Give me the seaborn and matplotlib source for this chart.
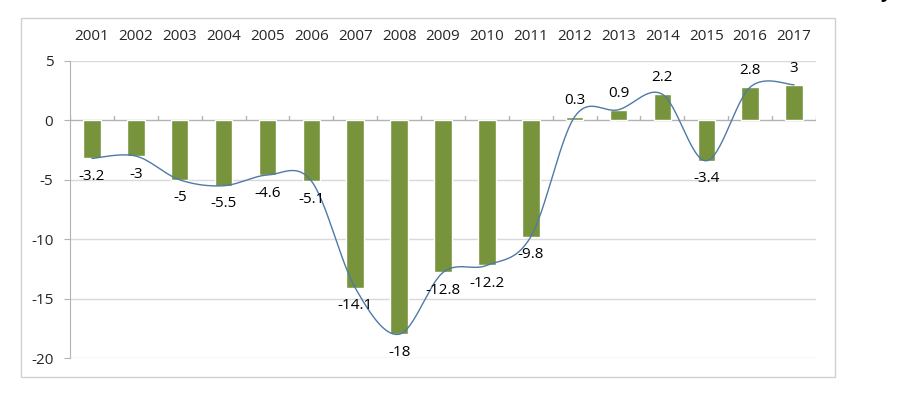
import matplotlib
matplotlib.use("Agg")
import matplotlib.pyplot as plt
import seaborn as sns
import numpy as np
import pandas as pd
from matplotlib.patches import Rectangle

# data
years = ["2001", "2002", "2003", "2004", "2005", "2006", "2007", "2008", "2009",
         "2010", "2011", "2012", "2013", "2014", "2015", "2016", "2017"]
values = [-3.2, -3, -5, -5.5, -4.6, -5.1, -14.1, -18, -12.8,
          -12.2, -9.8, 0.3, 0.9, 2.2, -3.4, 2.8, 3]
y_ticks = [5, 0, -5, -10, -15, -20]

bar_color = "#77933C"
line_color = "#4f7aa5"
grid_color = "#d9d9d9"
axis_color = "#b3b3b3"


def smooth_curve(x, y, steps=30):
    """Excel-like smoothed line (Catmull-Rom / Bezier with 1/6 tension)."""
    x = np.asarray(x, float)
    y = np.asarray(y, float)
    px = np.concatenate([[x[0]], x, [x[-1]]])
    py = np.concatenate([[y[0]], y, [y[-1]]])
    xs, ys = [], []
    t = np.linspace(0, 1, steps)
    for i in range(1, len(px) - 2):
        p0 = np.array([px[i], py[i]])
        p3 = np.array([px[i + 1], py[i + 1]])
        c1 = p0 + (p3 - np.array([px[i - 1], py[i - 1]])) / 6
        c2 = p3 - (np.array([px[i + 2], py[i + 2]]) - p0) / 6
        pts = ((1 - t) ** 3)[:, None] * p0 + (3 * (1 - t) ** 2 * t)[:, None] * c1 \
            + (3 * (1 - t) * t ** 2)[:, None] * c2 + (t ** 3)[:, None] * p3
        xs.append(pts[:, 0])
        ys.append(pts[:, 1])
    return np.concatenate(xs), np.concatenate(ys)


sns.set_style("white")
plt.rcParams["font.family"] = ["Open Sans", "DejaVu Sans"]

df = pd.DataFrame({"year": years, "value": values})

fig = plt.figure(figsize=(9.2, 3.94), dpi=100)
ax = fig.add_axes([70 / 920, 1 - 358 / 394, (816 - 70) / 920, (358 - 61) / 394])

# outer chart border
fig.patches.append(Rectangle((21 / 920, 1 - 377 / 394), (835 - 21) / 920, (377 - 18) / 394,
                             transform=fig.transFigure, fill=False,
                             edgecolor="#d0d0d0", linewidth=1, zorder=0))
# clipped glyph at the top edge of the screenshot
fig.text(880 / 920, 1 + 3 / 394, "y", fontsize=14, fontweight="bold",
         ha="left", va="baseline", color="black")

sns.barplot(data=df, x="year", y="value", color=bar_color, width=0.4,
            saturation=1, ax=ax, zorder=2)

# smoothed line through bar ends
xs, ys = smooth_curve(np.arange(len(values)), values)
ax.plot(xs, ys, color=line_color, linewidth=1, zorder=3)

# data labels
for i, v in enumerate(values):
    off = 12 if v > 0 else -13
    ax.annotate(f"{v:g}", (i, v), xytext=(0, off), textcoords="offset points",
                ha="center", va="center", fontsize=11, color="black", zorder=4)

ax.set_ylim(-20, 5)
ax.set_xlim(-0.5, len(years) - 0.5)
ax.set_yticks(y_ticks)
ax.set_yticklabels([str(t) for t in y_ticks], fontsize=11)

# gridlines
for t in y_ticks:
    if t != 0:
        ax.axhline(t, color=grid_color, linewidth=1, zorder=0)
ax.axhline(0, color=axis_color, linewidth=1, zorder=1)
# category tick marks on zero line
for b in np.arange(len(years) + 1) - 0.5:
    ax.plot([b, b], [0, 0.35], color=axis_color, linewidth=1, zorder=1)

for s in ["top", "right", "bottom"]:
    ax.spines[s].set_visible(False)
ax.spines["left"].set_color(axis_color)
ax.tick_params(axis="y", length=4, color=axis_color, pad=8, left=True)

ax.xaxis.tick_top()
ax.tick_params(axis="x", length=0, pad=12, labelsize=11)
ax.set_xlabel("")
ax.set_ylabel("")

fig.savefig("out.png", dpi=100)
